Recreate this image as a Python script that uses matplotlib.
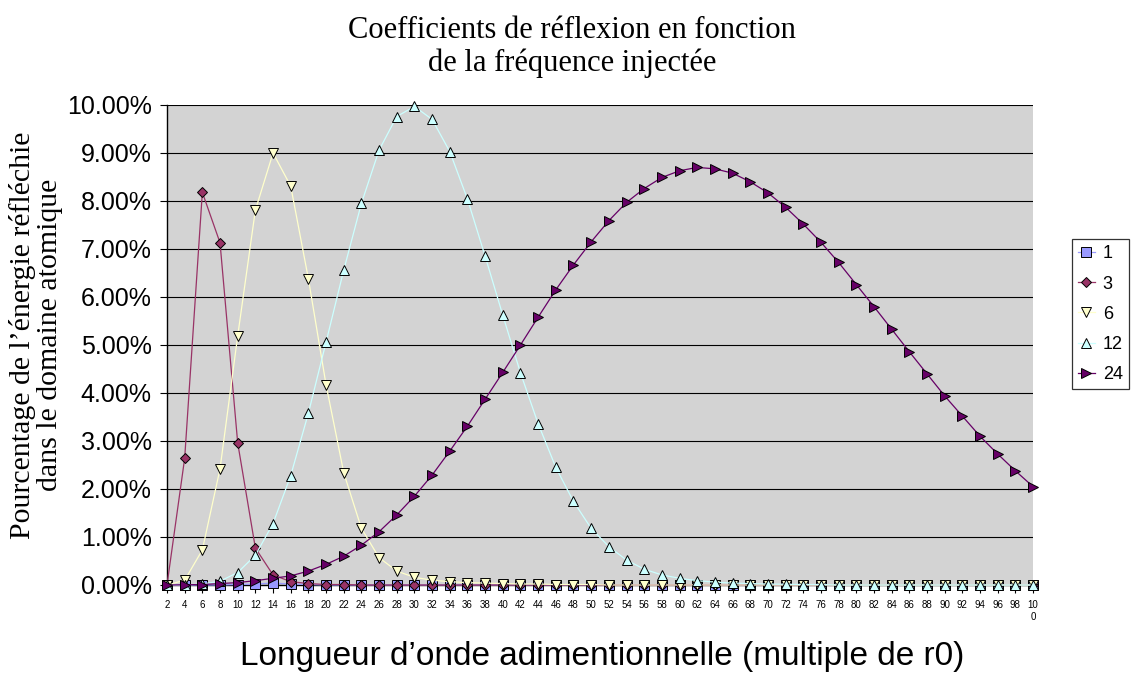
import matplotlib
matplotlib.use("Agg")
import matplotlib.pyplot as plt
from matplotlib.ticker import FixedLocator, FuncFormatter

# Dimensionless wavelength categories (multiples of r0)
wavelengths = list(range(2, 101, 2))
tick_labels = [str(w) for w in wavelengths[:-1]] + ["10\n0"]

# Reflected energy (%) for each injected frequency
series_1 = [0.0, 0.0, 0.0, 0.0, 0.01, 0.02, 0.04, 0.02, 0.01, 0.0,
            0.0, 0.0, 0.0, 0.0, 0.0, 0.0, 0.0, 0.0, 0.0, 0.0,
            0.0, 0.0, 0.0, 0.0, 0.0, 0.0, 0.0, 0.0, 0.0, 0.0,
            0.0, 0.0, 0.0, 0.0, 0.0, 0.0, 0.0, 0.0, 0.0, 0.0,
            0.0, 0.0, 0.0, 0.0, 0.0, 0.0, 0.0, 0.0, 0.0, 0.0]
series_3 = [0.0, 2.64, 8.18, 7.13, 2.96, 0.77, 0.21, 0.07, 0.03, 0.01,
            0.01, 0.0, 0.0, 0.0, 0.0, 0.0, 0.0, 0.0, 0.0, 0.0,
            0.0, 0.0, 0.0, 0.0, 0.0, 0.0, 0.0, 0.0, 0.0, 0.0,
            0.0, 0.0, 0.0, 0.0, 0.0, 0.0, 0.0, 0.0, 0.0, 0.0,
            0.0, 0.0, 0.0, 0.0, 0.0, 0.0, 0.0, 0.0, 0.0, 0.0]
series_6 = [0.0, 0.10, 0.73, 2.42, 5.19, 7.81, 9.00, 8.31, 6.38, 4.17,
            2.34, 1.18, 0.57, 0.29, 0.16, 0.10, 0.07, 0.05, 0.04, 0.03,
            0.02, 0.02, 0.01, 0.01, 0.01, 0.0, 0.0, 0.0, 0.0, 0.0,
            0.0, 0.0, 0.0, 0.0, 0.0, 0.0, 0.0, 0.0, 0.0, 0.0,
            0.0, 0.0, 0.0, 0.0, 0.0, 0.0, 0.0, 0.0, 0.0, 0.0]
series_12 = [0.0, 0.0, 0.02, 0.08, 0.26, 0.62, 1.28, 2.28, 3.58, 5.06,
             6.56, 7.95, 9.06, 9.76, 9.97, 9.70, 9.03, 8.04, 6.85, 5.62,
             4.42, 3.36, 2.45, 1.74, 1.18, 0.80, 0.52, 0.33, 0.21, 0.14,
             0.09, 0.06, 0.04, 0.03, 0.02, 0.015, 0.01, 0.01, 0.0, 0.0,
             0.0, 0.0, 0.0, 0.0, 0.0, 0.0, 0.0, 0.0, 0.0, 0.0]
series_24 = [0.0, 0.005, 0.01, 0.03, 0.05, 0.09, 0.14, 0.19, 0.29, 0.43,
             0.60, 0.83, 1.11, 1.46, 1.85, 2.29, 2.79, 3.31, 3.87, 4.43,
             5.00, 5.58, 6.15, 6.67, 7.15, 7.59, 7.97, 8.26, 8.49, 8.63,
             8.70, 8.67, 8.58, 8.40, 8.17, 7.87, 7.52, 7.14, 6.72, 6.26,
             5.80, 5.33, 4.86, 4.40, 3.94, 3.52, 3.10, 2.73, 2.38, 2.05]

series_names = ["1", "3", "6", "12", "24"]
series_values = [series_1, series_3, series_6, series_12, series_24]
series_colors = ["#9999FF", "#993366", "#FFFFCC", "#CCFFFF", "#660066"]
series_markers = ["s", "D", "v", "^", ">"]
marker_sizes = [6.5, 5.0, 7.5, 7.5, 7.5]

W, H = 1131, 673
fig = plt.figure(figsize=(W / 100, H / 100), dpi=100)
fig.patch.set_facecolor("white")

left, right, top, bottom = 167, 1033, 105, 585
ax = fig.add_axes([left / W, 1 - bottom / H, (right - left) / W, (bottom - top) / H])
ax.set_facecolor("#D3D3D3")

x = list(range(len(wavelengths)))
for name, vals, col, mk, ms in zip(series_names, series_values, series_colors,
                                   series_markers, marker_sizes):
    ax.plot(x, vals, color=col, lw=0.9, marker=mk, markersize=ms,
            markerfacecolor=col, markeredgecolor="black", markeredgewidth=0.7,
            label=name, clip_on=False, zorder=3)

ax.set_xlim(0, len(wavelengths) - 1)
ax.set_ylim(0, 10)
ax.yaxis.set_major_locator(FixedLocator([i for i in range(11)]))
ax.yaxis.set_major_formatter(FuncFormatter(lambda v, p: f"{v:.2f}%"))
ax.set_xticks(x)
ax.set_xticklabels(tick_labels, fontsize=7, family="Liberation Sans",
                   linespacing=1.3)
for lab in ax.get_yticklabels():
    lab.set_fontfamily("Liberation Sans")
    lab.set_fontsize(18)

ax.grid(axis="y", color="black", lw=0.8, zorder=1)
ax.set_axisbelow(True)
for s in ("top", "right"):
    ax.spines[s].set_visible(False)
for s in ("left", "bottom"):
    ax.spines[s].set_color("black")
    ax.spines[s].set_linewidth(1.0)
ax.tick_params(axis="y", direction="out", length=5, width=0.8, pad=6)
ax.tick_params(axis="x", direction="out", length=5.5, width=0.8, pad=5)

fig.text(572 / W, 1 - 16 / H,
         "Coefficients de réflexion en fonction\nde la fréquence injectée",
         ha="center", va="top", fontsize=22, family="Liberation Serif",
         linespacing=1.17)
fig.text(36 / W, 1 - 335 / H,
         "Pourcentage de l’énergie réfléchie\ndans le domaine atomique",
         ha="center", va="center", rotation=90, fontsize=21.5,
         family="Liberation Serif", linespacing=1.03)
fig.text(602 / W, 1 - 665 / H,
         "Longueur d’onde adimentionnelle (multiple de r0)",
         ha="center", va="baseline", fontsize=24, family="Liberation Sans")

leg = ax.legend(loc="upper left", bbox_to_anchor=(1072 / W, 1 - 239 / H),
                bbox_transform=fig.transFigure, frameon=True, fancybox=False,
                borderaxespad=0, handlelength=0.9, handletextpad=0.45,
                labelspacing=0.73, borderpad=0.35,
                prop={"family": "Liberation Sans", "size": 13})
leg.get_frame().set_edgecolor("black")
leg.get_frame().set_linewidth(0.9)

fig.savefig("out.png", dpi=100, facecolor="white")
